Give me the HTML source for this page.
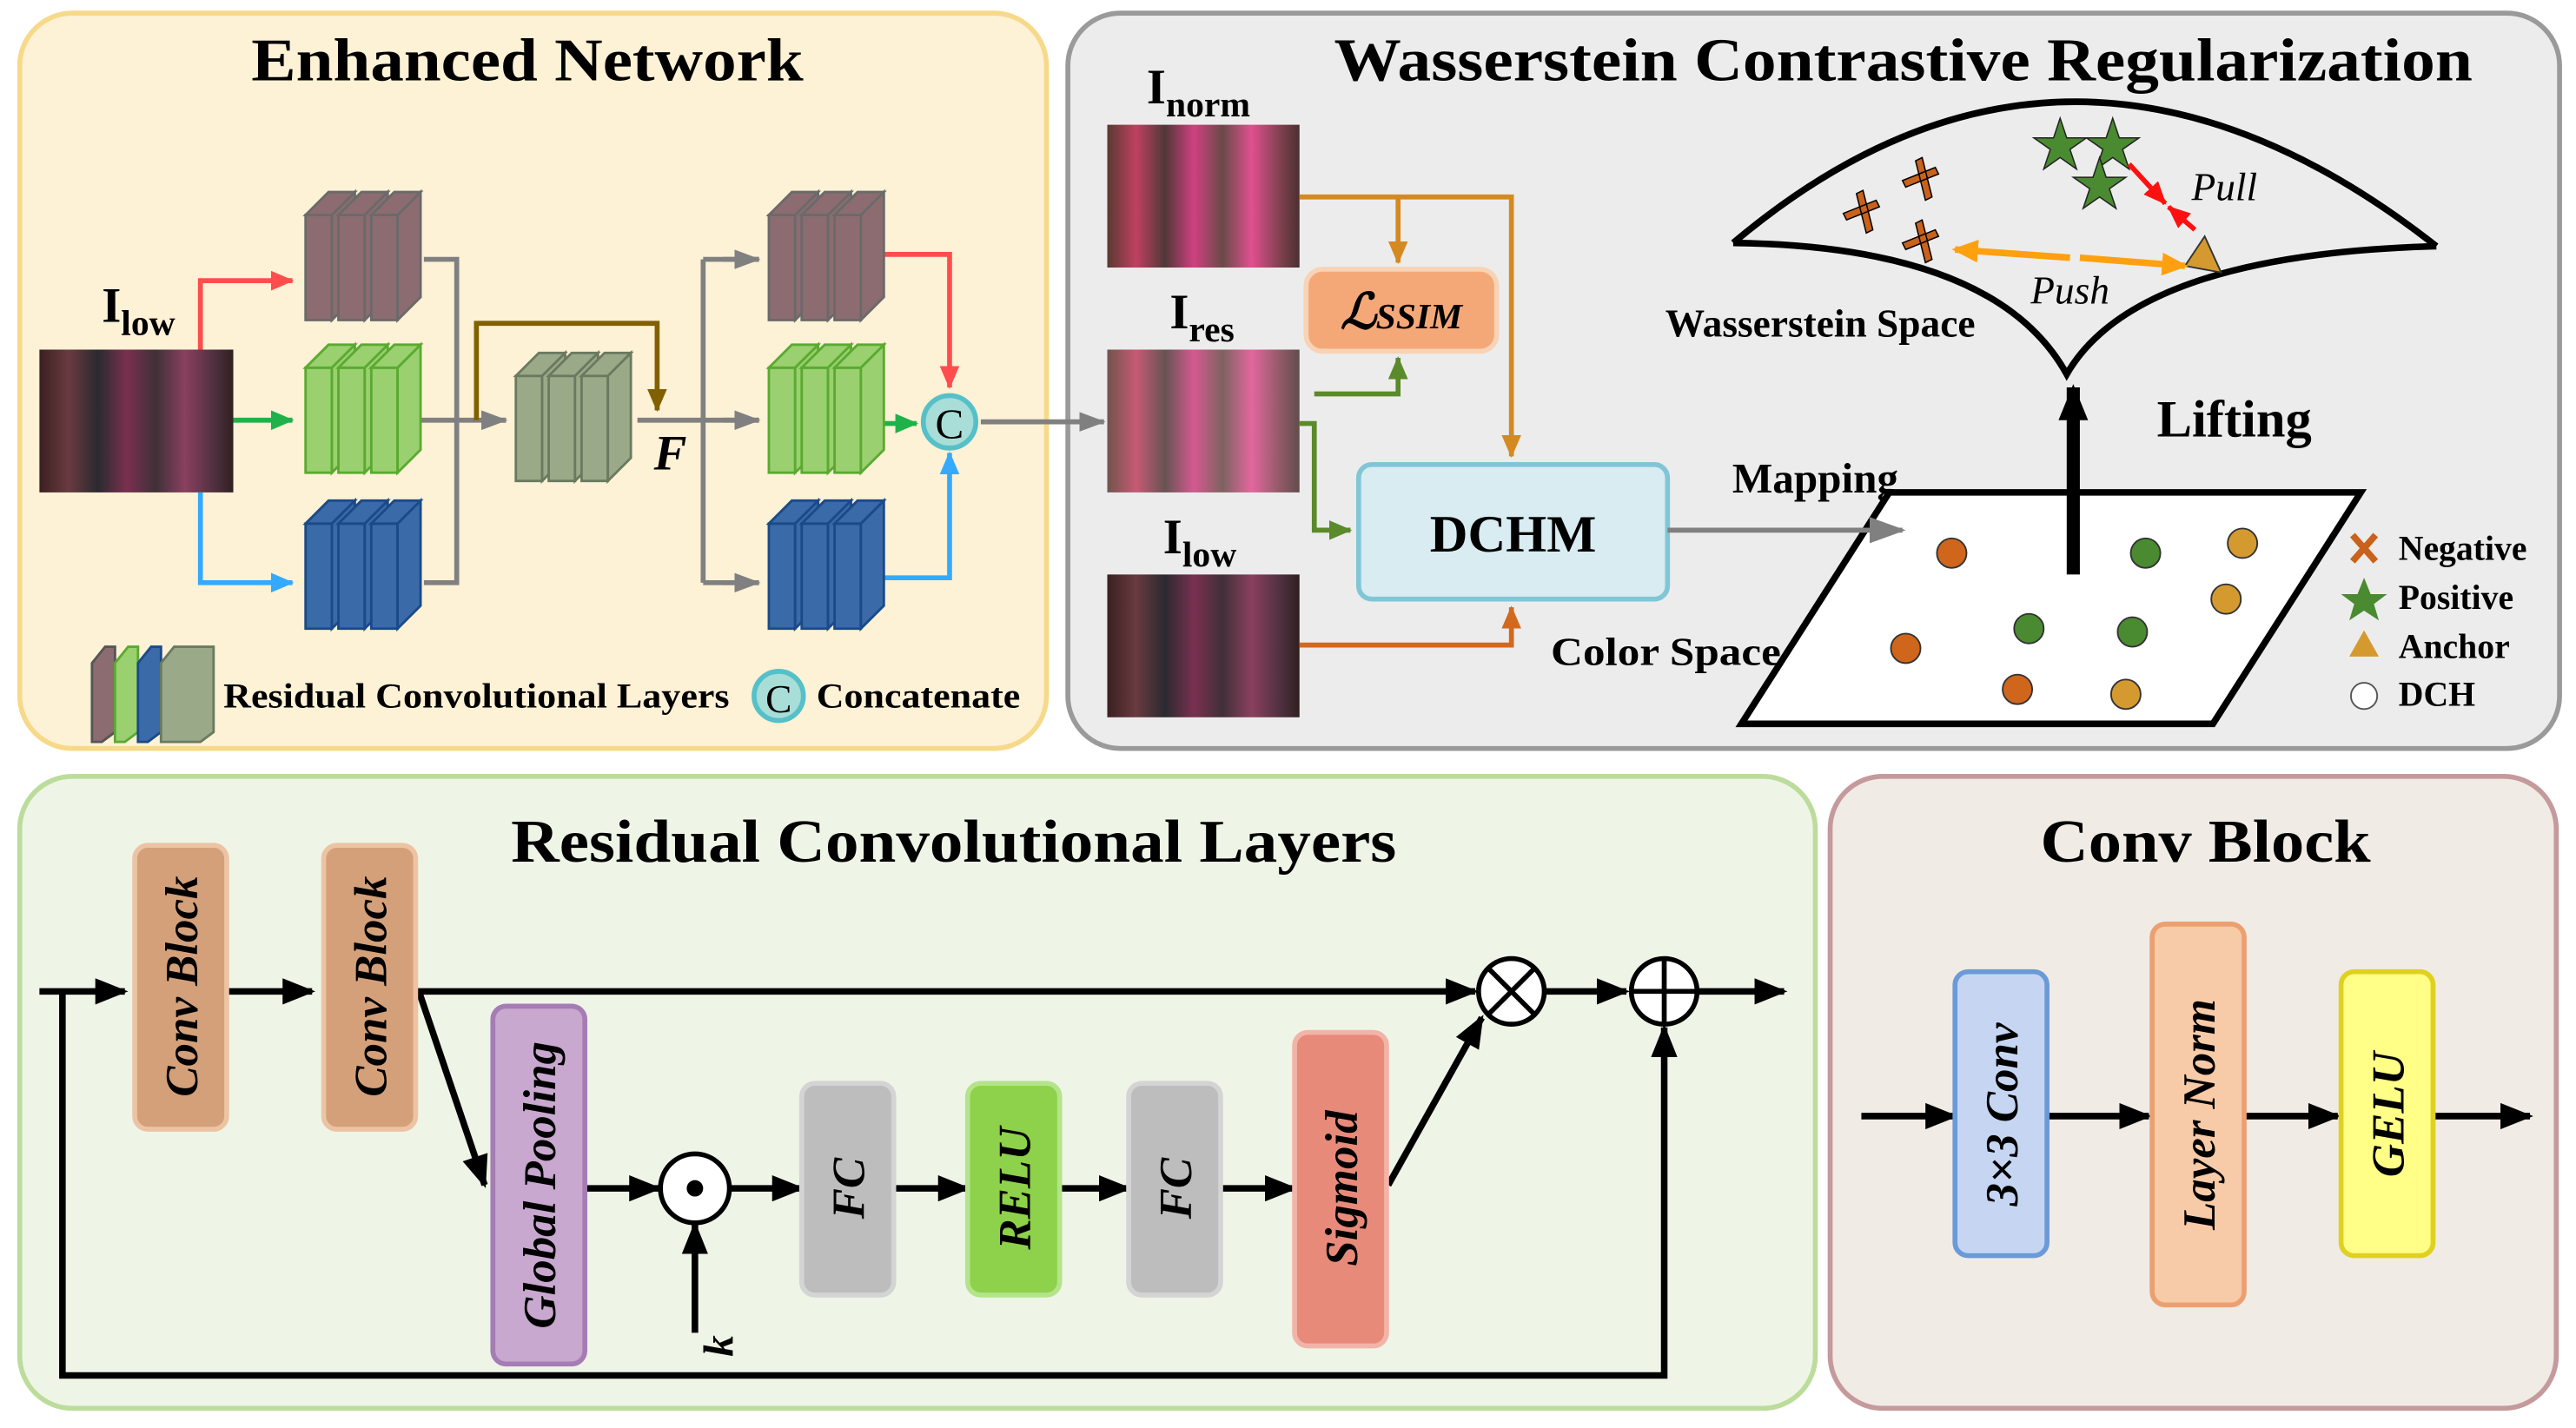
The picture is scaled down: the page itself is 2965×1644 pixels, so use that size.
<!DOCTYPE html>
<html><head><meta charset="utf-8"><style>
html,body{margin:0;padding:0;background:#fff;}
svg{display:block;}
text{font-family:"Liberation Serif",serif;}
</style></head><body>
<svg width="2965" height="1644" viewBox="0 0 1568 870" preserveAspectRatio="none" xmlns="http://www.w3.org/2000/svg">
<defs>
<marker id="ak" markerWidth="20" markerHeight="16" refX="18" refY="8" orient="auto" markerUnits="userSpaceOnUse"><path d="M0,0 L20,8 L0,16 z" fill="#000"/></marker>
<marker id="akb" markerWidth="22" markerHeight="18" refX="20" refY="9" orient="auto" markerUnits="userSpaceOnUse"><path d="M0,0 L22,9 L0,18 z" fill="#000"/></marker>
<marker id="ag" markerWidth="16" markerHeight="12" refX="15" refY="6" orient="auto" markerUnits="userSpaceOnUse"><path d="M0,0 L16,6 L0,12 z" fill="#808080"/></marker>
<marker id="agL" markerWidth="22" markerHeight="16" refX="20" refY="8" orient="auto" markerUnits="userSpaceOnUse"><path d="M0,0 L22,8 L0,16 z" fill="#808080"/></marker>
<marker id="ar" markerWidth="14" markerHeight="12" refX="13" refY="6" orient="auto" markerUnits="userSpaceOnUse"><path d="M0,0 L14,6 L0,12 z" fill="#ff4d4d"/></marker>
<marker id="agr" markerWidth="14" markerHeight="12" refX="13" refY="6" orient="auto" markerUnits="userSpaceOnUse"><path d="M0,0 L14,6 L0,12 z" fill="#1fb24a"/></marker>
<marker id="abl" markerWidth="14" markerHeight="12" refX="13" refY="6" orient="auto" markerUnits="userSpaceOnUse"><path d="M0,0 L14,6 L0,12 z" fill="#33aaff"/></marker>
<marker id="aol" markerWidth="14" markerHeight="12" refX="13" refY="6" orient="auto" markerUnits="userSpaceOnUse"><path d="M0,0 L14,6 L0,12 z" fill="#806000"/></marker>
<marker id="aor" markerWidth="14" markerHeight="12" refX="13" refY="6" orient="auto" markerUnits="userSpaceOnUse"><path d="M0,0 L14,6 L0,12 z" fill="#d48a20"/></marker>
<marker id="agg" markerWidth="14" markerHeight="12" refX="13" refY="6" orient="auto" markerUnits="userSpaceOnUse"><path d="M0,0 L14,6 L0,12 z" fill="#5a8a2a"/></marker>
<marker id="ado" markerWidth="14" markerHeight="12" refX="13" refY="6" orient="auto" markerUnits="userSpaceOnUse"><path d="M0,0 L14,6 L0,12 z" fill="#d2691e"/></marker>
<marker id="aps" markerWidth="16" markerHeight="14" refX="14" refY="7" orient="auto" markerUnits="userSpaceOnUse"><path d="M0,0 L16,7 L0,14 z" fill="#ffa010"/></marker>
<marker id="apl" markerWidth="14" markerHeight="12" refX="13" refY="6" orient="auto" markerUnits="userSpaceOnUse"><path d="M0,0 L14,6 L0,12 z" fill="#ff1010"/></marker>
<linearGradient id="ph" x1="0" x2="1" y1="0" y2="0">
<stop offset="0" stop-color="#3a2020"/><stop offset="0.15" stop-color="#6a3a40"/><stop offset="0.3" stop-color="#2a2a30"/><stop offset="0.45" stop-color="#7a3050"/><stop offset="0.6" stop-color="#403038"/><stop offset="0.75" stop-color="#8a4060"/><stop offset="0.9" stop-color="#503040"/><stop offset="1" stop-color="#302020"/></linearGradient>
<linearGradient id="phb" x1="0" x2="1" y1="0" y2="0">
<stop offset="0" stop-color="#5a3a30"/><stop offset="0.15" stop-color="#c04060"/><stop offset="0.3" stop-color="#503838"/><stop offset="0.45" stop-color="#d04080"/><stop offset="0.6" stop-color="#6a4a48"/><stop offset="0.75" stop-color="#e05090"/><stop offset="0.9" stop-color="#804050"/><stop offset="1" stop-color="#4a3030"/></linearGradient>
<g id="stk">
 <g><polygon points="0,14 16,14 16,78 0,78"/><polygon points="16,14 30,0 30,64 16,78"/><polygon points="0,14 14,0 30,0 16,14"/></g>
 <g transform="translate(20,0)"><polygon points="0,14 16,14 16,78 0,78"/><polygon points="16,14 30,0 30,64 16,78"/><polygon points="0,14 14,0 30,0 16,14"/></g>
 <g transform="translate(40,0)"><polygon points="0,14 16,14 16,78 0,78"/><polygon points="16,14 30,0 30,64 16,78"/><polygon points="0,14 14,0 30,0 16,14"/></g>
</g>
</defs>
<rect width="1568" height="870" fill="#fff"/>
<rect x="12" y="8" width="625" height="448" rx="32" fill="#fdf1d6" stroke="#f7d98a" stroke-width="3"/>
<rect x="650" y="8" width="908" height="448" rx="32" fill="#ececec" stroke="#9a9a9a" stroke-width="3"/>
<rect x="12" y="473" width="1093" height="385" rx="32" fill="#eef5e7" stroke="#bcdc9c" stroke-width="3"/>
<rect x="1114" y="473" width="442" height="385" rx="32" fill="#f0ebe5" stroke="#c59a9c" stroke-width="3"/>

<text x="153" y="49" font-size="37" font-weight="bold" textLength="336" lengthAdjust="spacingAndGlyphs">Enhanced Network</text>
<text x="812" y="49" font-size="37" font-weight="bold" textLength="693" lengthAdjust="spacingAndGlyphs">Wasserstein Contrastive Regularization</text>
<text x="311" y="525" font-size="37" font-weight="bold" textLength="539" lengthAdjust="spacingAndGlyphs">Residual Convolutional Layers</text>
<text x="1242" y="525" font-size="37" font-weight="bold" textLength="201" lengthAdjust="spacingAndGlyphs">Conv Block</text>

<text x="62" y="196" font-size="30" font-weight="bold">I<tspan font-size="22" dy="8">low</tspan></text>
<rect x="24" y="213" width="118" height="87" fill="url(#ph)"/>
<g fill="none" stroke-width="3">
<path d="M122,213 V171 H178" stroke="#ff4d4d" marker-end="url(#ar)"/>
<path d="M142,256 H178" stroke="#1fb24a" marker-end="url(#agr)"/>
<path d="M122,300 V355 H178" stroke="#33aaff" marker-end="url(#abl)"/>
<path d="M258,158 H278 V355 H258 M245,256 H308" stroke="#808080"/>
<path d="M300,256 H308" stroke="#808080" marker-end="url(#ag)"/>
<path d="M290,256 V197 H400 V250" stroke="#806000" marker-end="url(#aol)"/>
<path d="M388,256 H428 M428,158 V355 M428,158 H462 M428,256 H462 M428,355 H462" stroke="#808080"/>
<path d="M440,158 H462" stroke="#808080" marker-end="url(#ag)"/>
<path d="M440,256 H462" stroke="#808080" marker-end="url(#ag)"/>
<path d="M440,355 H462" stroke="#808080" marker-end="url(#ag)"/>
<path d="M527,155 H578 V236" stroke="#ff4d4d" marker-end="url(#ar)"/>
<path d="M520,258 H558" stroke="#1fb24a" marker-end="url(#agr)"/>
<path d="M527,352 H578 V276" stroke="#33aaff" marker-end="url(#abl)"/>
<path d="M597,257 H672" stroke="#808080" marker-end="url(#ag)"/>
</g>
<use href="#stk" x="186" y="117" fill="#8c6c70" stroke="#6a6a6a" stroke-width="1.5"/>
<use href="#stk" x="186" y="210" fill="#9ad070" stroke="#5aaa30" stroke-width="1.5"/>
<use href="#stk" x="186" y="305" fill="#3a6aa8" stroke="#1a4a88" stroke-width="1.5"/>
<use href="#stk" x="314" y="215" fill="#9aaa88" stroke="#6a7a60" stroke-width="1.5"/>
<use href="#stk" x="468" y="117" fill="#8c6c70" stroke="#6a6a6a" stroke-width="1.5"/>
<use href="#stk" x="468" y="210" fill="#9ad070" stroke="#5aaa30" stroke-width="1.5"/>
<use href="#stk" x="468" y="305" fill="#3a6aa8" stroke="#1a4a88" stroke-width="1.5"/>
<text x="398" y="286" font-size="30" font-weight="bold" font-style="italic">F</text>
<circle cx="578" cy="257" r="16" fill="#a8ddd8" stroke="#55c0c8" stroke-width="3"/>
<text x="578" y="267" font-size="26" text-anchor="middle">C</text>
<g stroke-width="1.5">
<polygon points="56,404 64,394 70,394 70,446 62,452 56,452" fill="#8c6c70" stroke="#555"/>
<polygon points="70,404 78,394 84,394 84,446 76,452 70,452" fill="#9ad070" stroke="#5aaa30"/>
<polygon points="84,404 92,394 98,394 98,446 90,452 84,452" fill="#3a6aa8" stroke="#1a4a88"/>
<polygon points="98,404 106,394 130,394 130,446 122,452 98,452" fill="#9aaa88" stroke="#6a7a60"/>
</g>
<text x="136" y="431" font-size="21" font-weight="bold" textLength="308" lengthAdjust="spacingAndGlyphs">Residual Convolutional Layers</text>
<circle cx="474" cy="424" r="15" fill="#a8ddd8" stroke="#55c0c8" stroke-width="3"/>
<text x="474" y="434" font-size="24" text-anchor="middle">C</text>
<text x="497" y="431" font-size="21" font-weight="bold" textLength="124" lengthAdjust="spacingAndGlyphs">Concatenate</text>

<text x="698" y="63" font-size="30" font-weight="bold">I<tspan font-size="22" dy="8">norm</tspan></text>
<rect x="674" y="76" width="117" height="87" fill="url(#phb)"/>
<text x="712" y="200" font-size="30" font-weight="bold">I<tspan font-size="22" dy="8">res</tspan></text>
<rect x="674" y="213" width="117" height="87" fill="url(#phb)" opacity="0.85"/>
<text x="708" y="337" font-size="30" font-weight="bold">I<tspan font-size="22" dy="8">low</tspan></text>
<rect x="674" y="350" width="117" height="87" fill="url(#ph)"/>
<rect x="795" y="164" width="116" height="50" rx="10" fill="#f4a878" stroke="#f8d3b5" stroke-width="3"/>
<text x="853" y="200" font-size="30" font-style="italic" font-weight="bold" text-anchor="middle">ℒ<tspan font-size="22">SSIM</tspan></text>
<rect x="827" y="283" width="188" height="82" rx="8" fill="#d8ecf2" stroke="#80c6d6" stroke-width="3"/>
<text x="921" y="336" font-size="32" font-weight="bold" text-anchor="middle">DCHM</text>
<g fill="none" stroke-width="3">
<path d="M791,120 H920 V278" stroke="#d48a20" marker-end="url(#aor)"/>
<path d="M851,120 V160" stroke="#d48a20" marker-end="url(#aor)"/>
<path d="M791,258 H800 V323 H822" stroke="#5a8a2a" marker-end="url(#agg)"/>
<path d="M800,240 H851 V218" stroke="#5a8a2a" marker-end="url(#agg)"/>
<path d="M791,393 H920 V370" stroke="#d2691e" marker-end="url(#ado)"/>
</g>
<text x="1105" y="300" font-size="26" font-weight="bold" text-anchor="middle">Mapping</text>
<text x="1014" y="405" font-size="24" font-weight="bold" text-anchor="middle" textLength="140" lengthAdjust="spacingAndGlyphs">Color Space</text>
<polygon points="1060,441 1150,300 1437,300 1347,441" fill="#fff" stroke="#000" stroke-width="4"/>
<path d="M1015,323 H1158" stroke="#808080" stroke-width="3" fill="none" marker-end="url(#agL)"/>
<g stroke="#333" stroke-width="1">
<circle cx="1188" cy="337" r="9" fill="#d0651c"/><circle cx="1160" cy="395" r="9" fill="#d0651c"/><circle cx="1228" cy="420" r="9" fill="#d0651c"/>
<circle cx="1306" cy="337" r="9" fill="#4a8a30"/><circle cx="1235" cy="383" r="9" fill="#4a8a30"/><circle cx="1298" cy="385" r="9" fill="#4a8a30"/>
<circle cx="1365" cy="331" r="9" fill="#d49a30"/><circle cx="1355" cy="365" r="9" fill="#d49a30"/><circle cx="1294" cy="423" r="9" fill="#d49a30"/>
</g>
<line x1="1262" y1="350" x2="1262" y2="236" stroke="#000" stroke-width="8" marker-end="url(#akb)"/>
<text x="1360" y="266" font-size="32" font-weight="bold" text-anchor="middle">Lifting</text>
<path d="M1055,148 Q1260,-25 1483,150" fill="none" stroke="#000" stroke-width="4"/>
<path d="M1055,148 Q1215,150 1258,228 Q1300,155 1483,150" fill="none" stroke="#000" stroke-width="4"/>
<text x="1108" y="205" font-size="24" font-weight="bold" text-anchor="middle">Wasserstein Space</text>
<g stroke="#000" stroke-width="0.8" fill="#c8621c">
<path d="M1122,130 l20,-8 l2,4 l-20,8z M1130,118 l4,-2 l6,24 l-4,2z"/>
<path d="M1158,110 l20,-8 l2,4 l-20,8z M1166,98 l4,-2 l6,24 l-4,2z"/>
<path d="M1158,148 l20,-8 l2,4 l-20,8z M1166,136 l4,-2 l6,24 l-4,2z"/>
</g>
<g fill="#4a8a30" stroke="#222" stroke-width="0.8">
<polygon points="1254,72 1258,84 1270,84 1260,91 1264,103 1254,96 1244,103 1248,91 1238,84 1250,84"/>
<polygon points="1286,72 1290,84 1302,84 1292,91 1296,103 1286,96 1276,103 1280,91 1270,84 1282,84"/>
<polygon points="1278,96 1282,108 1294,108 1284,115 1288,127 1278,120 1268,127 1272,115 1262,108 1274,108"/>
</g>
<polygon points="1342,144 1352,166 1330,162" fill="#d49a30" stroke="#333" stroke-width="1"/>
<line x1="1296" y1="100" x2="1318" y2="124" stroke="#ff1010" stroke-width="3" marker-end="url(#apl)"/>
<line x1="1336" y1="140" x2="1320" y2="126" stroke="#ff1010" stroke-width="3" marker-end="url(#apl)"/>
<line x1="1260" y1="157" x2="1190" y2="152" stroke="#ffa010" stroke-width="4" marker-end="url(#aps)"/>
<line x1="1266" y1="157" x2="1330" y2="162" stroke="#ffa010" stroke-width="4" marker-end="url(#aps)"/>
<text x="1334" y="122" font-size="24" font-style="italic">Pull</text>
<text x="1236" y="185" font-size="24" font-style="italic">Push</text>
<g font-size="21" font-weight="bold">
<path d="M1432,326 l14,16 M1446,326 l-14,16" stroke="#c8621c" stroke-width="4"/>
<text x="1460" y="341">Negative</text>
<polygon points="1439,352 1443,362 1453,362 1445,368 1448,378 1439,372 1430,378 1433,368 1425,362 1435,362" fill="#4a8a30"/>
<text x="1460" y="371">Positive</text>
<polygon points="1439,384 1448,400 1430,400" fill="#d49a30"/>
<text x="1460" y="401">Anchor</text>
<circle cx="1439" cy="424" r="8" fill="#fff" stroke="#555"/>
<text x="1460" y="430">DCH</text>
</g>

<g stroke="#000" stroke-width="4" fill="none">
<path d="M24,604 H76" marker-end="url(#ak)"/>
<path d="M138,604 H190" marker-end="url(#ak)"/>
<path d="M253,604 H898" marker-end="url(#ak)"/>
<path d="M941,604 H990" marker-end="url(#ak)"/>
<path d="M1034,604 H1086" marker-end="url(#ak)"/>
<path d="M38,604 V838 H1013 V626" marker-end="url(#ak)"/>
<path d="M255,604 L295,722" marker-end="url(#ak)"/>
<path d="M356,724 H401" marker-end="url(#ak)"/>
<path d="M423,812 V746" marker-end="url(#ak)"/>
<path d="M444,724 H488" marker-end="url(#ak)"/>
<path d="M544,724 H589" marker-end="url(#ak)"/>
<path d="M645,724 H687" marker-end="url(#ak)"/>
<path d="M743,724 H788" marker-end="url(#ak)"/>
<path d="M845,722 L902,620" marker-end="url(#ak)"/>
</g>
<circle cx="920" cy="604" r="20" fill="#fff" stroke="#000" stroke-width="3"/>
<path d="M906,590 L934,618 M934,590 L906,618" stroke="#000" stroke-width="3"/>
<circle cx="1013" cy="604" r="20" fill="#fff" stroke="#000" stroke-width="3"/>
<path d="M993,604 H1033 M1013,584 V624" stroke="#000" stroke-width="3"/>
<circle cx="423" cy="724" r="21" fill="#fff" stroke="#000" stroke-width="3"/>
<circle cx="423" cy="724" r="5" fill="#000"/>
<text transform="translate(446,820) rotate(-90)" font-size="26" font-weight="bold" font-style="italic" text-anchor="middle">k</text>
<g stroke-width="3">
<rect x="82" y="515" width="56" height="173" rx="8" fill="#d4a07a" stroke="#ecc4a4"/>
<rect x="197" y="515" width="56" height="173" rx="8" fill="#d4a07a" stroke="#ecc4a4"/>
<rect x="300" y="613" width="56" height="218" rx="8" fill="#c8a8cf" stroke="#a67cb4"/>
<rect x="488" y="660" width="56" height="129" rx="8" fill="#bdbdbd" stroke="#d4d4d4"/>
<rect x="589" y="660" width="56" height="129" rx="8" fill="#8ed14a" stroke="#b4e48a"/>
<rect x="687" y="660" width="56" height="129" rx="8" fill="#bdbdbd" stroke="#d4d4d4"/>
<rect x="788" y="629" width="56" height="191" rx="8" fill="#e88a7a" stroke="#f2b4a8"/>
</g>
<g font-size="28" font-weight="bold" font-style="italic" text-anchor="middle">
<text transform="translate(120,601) rotate(-90)">Conv Block</text>
<text transform="translate(235,601) rotate(-90)">Conv Block</text>
<text transform="translate(338,722) rotate(-90)">Global Pooling</text>
<text transform="translate(526,724) rotate(-90)">FC</text>
<text transform="translate(627,724) rotate(-90)">RELU</text>
<text transform="translate(725,724) rotate(-90)">FC</text>
<text transform="translate(826,724) rotate(-90)">Sigmoid</text>
</g>

<g stroke="#000" stroke-width="4" fill="none">
<path d="M1133,680 H1190" marker-end="url(#ak)"/>
<path d="M1246,680 H1308" marker-end="url(#ak)"/>
<path d="M1366,680 H1423" marker-end="url(#ak)"/>
<path d="M1481,680 H1540" marker-end="url(#ak)"/>
</g>
<g stroke-width="3">
<rect x="1190" y="592" width="56" height="173" rx="8" fill="#c6d6f2" stroke="#6a9ad8"/>
<rect x="1310" y="563" width="56" height="232" rx="8" fill="#f8cba8" stroke="#eca070"/>
<rect x="1425" y="592" width="56" height="173" rx="8" fill="#ffff88" stroke="#e0d020"/>
</g>
<g font-size="28" font-weight="bold" font-style="italic" text-anchor="middle">
<text transform="translate(1228,679) rotate(-90)">3×3 Conv</text>
<text transform="translate(1348,679) rotate(-90)">Layer Norm</text>
<text transform="translate(1463,679) rotate(-90)">GELU</text>
</g>
</svg>
</body></html>
